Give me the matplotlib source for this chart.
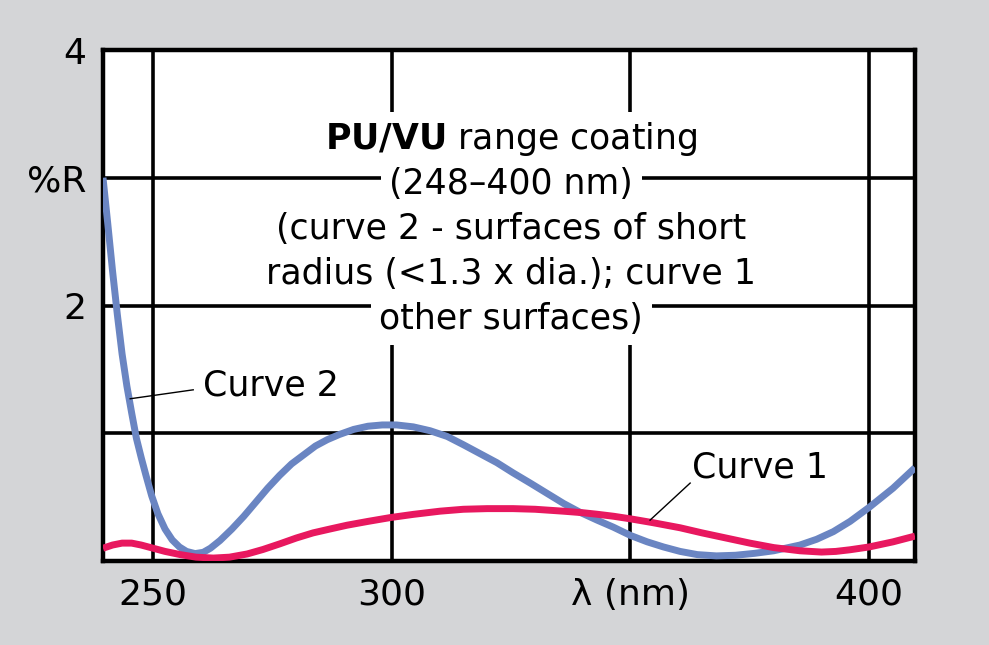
import matplotlib
matplotlib.use("Agg")
import matplotlib.pyplot as plt

# ==========================================
# 1. data
# ==========================================
curve2_x = [239.5, 240.5, 241.5, 242.5, 243.5, 244.5, 245.5, 246.5, 247.5, 248.5,
            249.7, 251.0, 252.5, 254.0, 255.5, 257.0, 258.8, 260.5, 262.0, 264.0,
            266.5, 269.0, 271.5, 274.0, 276.5, 279.0, 281.5, 284.0, 286.5, 289.0,
            292.0, 295.0, 298.0, 301.0, 304.5, 308.0, 311.6, 315.0, 318.5, 322.0,
            325.4, 329.0, 332.5, 336.0, 339.5, 343.0, 346.4, 350.0, 353.5, 356.9,
            360.4, 364.0, 368.0, 372.0, 376.0, 380.0, 385.5, 389.0, 392.5, 396.0,
            400.0, 405.0, 409.6]
curve2_y = [3.00, 2.64, 2.27, 1.93, 1.62, 1.37, 1.16, 0.96, 0.81, 0.67,
            0.51, 0.37, 0.25, 0.165, 0.11, 0.075, 0.058, 0.068, 0.10, 0.16,
            0.25, 0.35, 0.46, 0.57, 0.67, 0.76, 0.83, 0.90, 0.95, 0.99,
            1.03, 1.055, 1.065, 1.065, 1.05, 1.02, 0.975, 0.91, 0.84, 0.77,
            0.69, 0.61, 0.53, 0.45, 0.38, 0.32, 0.265, 0.20, 0.15, 0.11,
            0.075, 0.05, 0.04, 0.045, 0.06, 0.08, 0.125, 0.17, 0.23, 0.31,
            0.42, 0.57, 0.73]

curve1_x = [239.5, 241.5, 243.5, 245.5, 247.5, 250.0, 252.5, 255.7, 259.0, 262.6,
            266.0, 269.7, 273.0, 276.6, 280.0, 283.5, 287.0, 290.6, 295.0, 299.7,
            304.5, 310.1, 315.0, 320.0, 325.4, 330.0, 335.9, 340.0, 343.0, 346.5,
            350.0, 354.7, 360.4, 365.0, 370.0, 375.0, 380.0, 385.5, 390.0, 393.0,
            396.0, 400.0, 405.0, 409.6]
curve1_y = [0.10, 0.125, 0.14, 0.14, 0.125, 0.10, 0.075, 0.05, 0.03, 0.023,
            0.03, 0.055, 0.09, 0.135, 0.18, 0.22, 0.25, 0.28, 0.31, 0.34,
            0.365, 0.39, 0.405, 0.41, 0.41, 0.405, 0.39, 0.378, 0.366, 0.35,
            0.33, 0.30, 0.26, 0.22, 0.18, 0.14, 0.105, 0.08, 0.07, 0.075,
            0.088, 0.11, 0.15, 0.195]

x_ticks = [250, 300, 350, 400]
x_labels = ["250", "300", "λ (nm)", "400"]
y_ticks = [1, 2, 3, 4]
y_labels = ["", "2", "%R", "4"]

title_lines = [
    r"$\mathbf{PU/VU}$ range coating",
    "(248–400 nm)",
    "(curve 2 - surfaces of short",
    "radius (<1.3 x dia.); curve 1",
    "other surfaces)",
]

# ==========================================
# 2. figure
# ==========================================
BG = "#d4d5d7"
BLUE = "#6a85c2"
PINK = "#e8185f"

fig = plt.figure(figsize=(9.89, 6.45), dpi=100)
fig.patch.set_facecolor(BG)
ax = fig.add_axes([103 / 989, 84 / 645, 812 / 989, 511 / 645])
ax.set_facecolor("white")

ax.set_xlim(239.5, 409.6)
ax.set_ylim(0, 4)

# grid
ax.set_axisbelow(True)
ax.set_xticks(x_ticks)
ax.set_xticklabels(x_labels)
ax.set_yticks(y_ticks)
ax.set_yticklabels(y_labels)
ax.grid(True, color="black", lw=2.6)
ax.tick_params(length=0, labelsize=26, pad=12)
for s in ax.spines.values():
    s.set_linewidth(3.2)
    s.set_color("black")

# curves
ax.plot(curve2_x, curve2_y, color=BLUE, lw=5, solid_capstyle="butt",
        solid_joinstyle="round", zorder=4)
ax.plot(curve1_x, curve1_y, color=PINK, lw=5, solid_capstyle="butt",
        solid_joinstyle="round", zorder=5)

# ==========================================
# 3. annotations
# ==========================================
for i, line in enumerate(title_lines):
    ax.text(325, 3.30 - i * 0.352, line, ha="center", va="center", fontsize=25,
            zorder=3, bbox=dict(boxstyle="square,pad=0.25", fc="white", ec="none"))

ax.plot([245.2, 258.4], [1.27, 1.34], color="black", lw=1, zorder=6)
ax.text(260.5, 1.375, "Curve 2", ha="left", va="center", fontsize=25, zorder=6)

ax.plot([354.1, 362.5], [0.32, 0.61], color="black", lw=1, zorder=6)
ax.text(362.9, 0.73, "Curve 1", ha="left", va="center", fontsize=25, zorder=6)

fig.savefig("out.png", dpi=100, facecolor=BG)
